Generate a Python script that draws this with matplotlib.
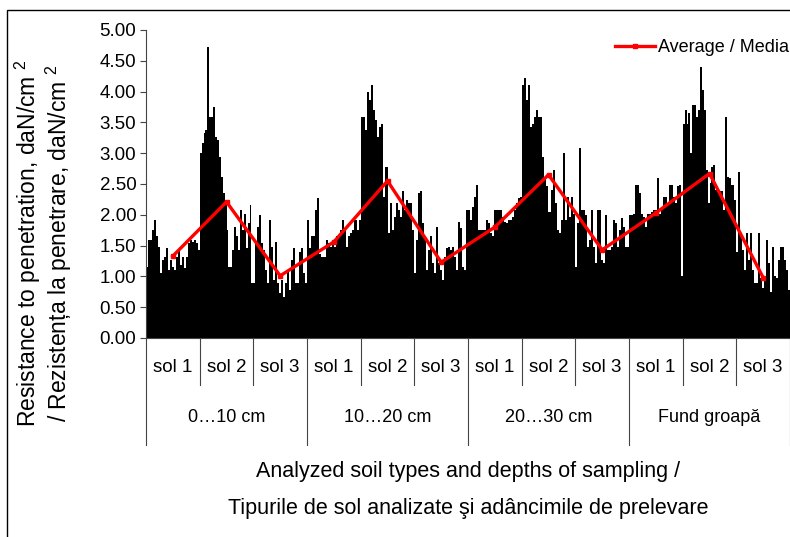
import matplotlib
matplotlib.use("Agg")
import matplotlib.pyplot as plt
import matplotlib.transforms as mtransforms
from matplotlib.patches import Rectangle

plt.rcParams['font.family'] = ['Liberation Sans', 'DejaVu Sans']
plt.rcParams['mathtext.fontset'] = 'custom'
plt.rcParams['mathtext.rm'] = 'Liberation Sans'

depths = ['0…10 cm', '10…20 cm', '20…30 cm', 'Fund groapă']
soils = ['sol 1', 'sol 2', 'sol 3']

# individual readings, daN/cm2
r_0_10_sol1 = [1.16, 1.59, 1.59, 1.75, 1.92, 1.65, 1.48, 1.05, 1.27, 1.32, 1.46, 1.10, 1.27, 1.16,
               1.10, 1.32, 1.43, 1.18, 1.32, 1.13, 1.32, 1.54, 1.59, 1.56, 1.59, 1.54, 1.43]
r_0_10_sol2 = [3.00, 3.16, 3.32, 3.38, 4.73, 3.59, 3.59, 3.75, 3.27, 3.21, 2.94, 2.62, 2.35, 2.19,
               1.75, 1.16, 1.16, 1.43, 1.81, 1.65, 1.43, 2.08, 1.75, 2.02, 1.46, 1.86, 2.16, 0.89]
r_0_10_sol3 = [0.89, 1.54, 1.81, 2.00, 1.54, 1.43, 1.10, 0.89, 1.92, 1.48, 0.94, 1.56, 0.89, 0.73,
               0.94, 0.67, 0.89, 1.10, 0.78, 1.27, 1.46, 0.89, 0.89, 1.40, 1.46, 1.05, 0.89]
r_10_20_sol1 = [1.92, 1.46, 1.65, 1.65, 2.08, 2.27, 1.37, 1.32, 1.32, 1.59, 1.54, 1.48, 1.54, 1.48,
                1.65, 1.65, 1.75, 1.92, 1.75, 1.48, 1.65, 1.70, 1.75, 1.92, 1.75, 1.92]
r_10_20_sol2 = [3.59, 3.59, 3.38, 4.00, 3.86, 4.11, 3.70, 3.54, 3.27, 3.43, 3.48, 2.29, 2.78, 2.78,
                1.70, 2.19, 1.75, 1.97, 2.19, 2.08, 1.97, 2.38, 2.08, 2.24, 2.19, 2.19, 1.75]
r_10_20_sol3 = [1.05, 1.59, 2.35, 2.38, 1.86, 1.65, 1.10, 1.43, 1.65, 1.21, 1.05, 1.81, 1.21, 1.10,
                0.94, 1.32, 1.46, 1.48, 1.43, 1.48, 1.32, 1.10, 1.89, 1.78, 1.16, 1.10, 2.08]
r_20_30_sol1 = [2.08, 1.92, 2.13, 2.29, 2.48, 1.75, 1.75, 1.75, 1.75, 1.92, 1.86, 1.70, 1.65, 2.08,
                2.08, 2.08, 2.08, 1.97, 1.89, 1.86, 1.92, 1.92, 1.97, 2.08, 2.19, 2.27, 2.29]
r_20_30_sol2 = [4.11, 4.22, 3.86, 4.11, 3.43, 3.48, 3.59, 3.70, 3.59, 3.59, 2.94, 2.62, 2.46, 2.05,
                2.05, 2.40, 2.73, 2.19, 1.75, 1.70, 1.92, 3.00, 1.92, 2.29, 1.97, 2.29, 2.02]
r_20_30_sol3 = [1.16, 1.86, 3.08, 2.08, 2.08, 2.00, 1.48, 1.59, 2.08, 1.48, 1.21, 2.08, 2.08, 1.27,
                1.21, 2.00, 1.43, 1.43, 1.48, 1.92, 1.86, 1.48, 1.75, 1.94, 1.81, 1.48, 1.48]
r_fund_sol1 = [2.00, 2.00, 2.02, 2.48, 2.48, 2.35, 2.02, 1.97, 1.81, 2.02, 2.02, 2.05, 2.08, 2.08,
               2.59, 2.02, 2.13, 2.29, 2.29, 2.19, 2.48, 2.48, 2.29, 2.19, 2.46, 2.48, 1.00]
r_fund_sol2 = [3.48, 3.70, 3.48, 3.65, 3.00, 3.78, 3.78, 3.59, 3.70, 4.40, 4.03, 3.70, 2.73, 2.19,
               2.51, 2.78, 2.81, 2.40, 2.38, 2.38, 2.38, 2.08, 3.59, 2.62, 2.59, 2.48, 2.48, 2.24]
r_fund_sol3 = [1.40, 2.70, 1.70, 1.43, 1.10, 1.70, 1.27, 1.70, 1.10, 0.89, 0.89, 1.70, 0.97, 0.81,
               0.94, 1.59, 1.21, 0.75, 1.48, 1.00, 0.97, 1.27, 1.48, 1.48, 1.27, 1.10, 0.78]

readings = [r_0_10_sol1, r_0_10_sol2, r_0_10_sol3,
            r_10_20_sol1, r_10_20_sol2, r_10_20_sol3,
            r_20_30_sol1, r_20_30_sol2, r_20_30_sol3,
            r_fund_sol1, r_fund_sol2, r_fund_sol3]

# average per soil / depth
average = [1.33, 2.21, 1.01, 1.56, 2.55, 1.23, 1.80, 2.65, 1.43, 2.03, 2.67, 0.98]

fig = plt.figure(figsize=(7.9, 5.37), dpi=100)
ax = fig.add_axes([146 / 790, 1 - 338 / 537, 644 / 790, 308 / 537])

for k, vals in enumerate(readings):
    n = len(vals)
    xs = [k + (i + 0.5) / n for i in range(n)]
    ax.bar(xs, vals, width=1.0 / n, color='black', linewidth=0)

xc = [k + 0.5 for k in range(len(average))]
ax.plot(xc, average, color='#ff0000', linewidth=2.4, marker='s', markersize=3,
        label='Average / Media', zorder=5)

ax.set_xlim(0, 12)
ax.set_ylim(0, 5)
ax.set_yticks([i * 0.5 for i in range(11)])
ax.set_yticklabels(['%.2f' % (i * 0.5) for i in range(11)], fontsize=13.5)
ax.set_xticks([])
for s in ['top', 'right']:
    ax.spines[s].set_visible(False)
ax.spines['bottom'].set_visible(False)
ax.spines['left'].set_color('#444444')
ax.tick_params(axis='y', length=4, width=0.8, color='#444444', pad=3)

# two-level category table below the axis
trans = mtransforms.blended_transform_factory(ax.transData, ax.transAxes)
ax.plot([0, 12], [0, 0], color='#444444', linewidth=0.8, transform=trans, clip_on=False)
sol_depth = 47 / 308
grp_depth = 107 / 308
for k in range(13):
    y1 = -grp_depth if k % 3 == 0 else -sol_depth
    ax.plot([k, k], [0, y1], color='#444444', linewidth=0.8, transform=trans, clip_on=False)
for k in range(12):
    ax.text(k + 0.5, -30 / 308, soils[k % 3], transform=trans, ha='center', va='center', fontsize=13.5)
for g, name in enumerate(depths):
    ax.text(g * 3 + 1.5, -79 / 308, name, transform=trans, ha='center', va='center', fontsize=13)

ax.legend(loc='upper right', bbox_to_anchor=(1.012, 1.0), frameon=False, fontsize=13,
          handlelength=2.2, handletextpad=0.15, borderaxespad=0.1)

fig.text(0.055, 1 - 243 / 537,
         'Resistance to penetration, daN/cm $^{2}$\n/ Rezistența la penetrare, daN/cm $^{2}$',
         rotation=90, ha='center', va='center', fontsize=16.5, linespacing=1.05)
fig.text(468 / 790, 1 - 490 / 537,
         'Analyzed soil types and depths of sampling /\nTipurile de sol analizate şi adâncimile de prelevare',
         ha='center', va='center', fontsize=15.5, linespacing=1.95)

fig.patches.append(Rectangle((7 / 790, -0.02), 1.0, 1 - 10 / 537 + 0.02, transform=fig.transFigure,
                             fill=False, edgecolor='black', linewidth=1.0, figure=fig))

fig.savefig('out.png', dpi=100)
